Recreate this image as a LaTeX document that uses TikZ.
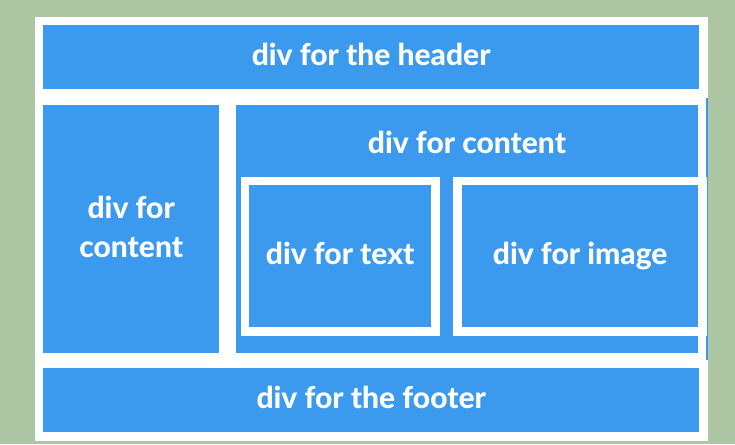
\documentclass[tikz,border=0pt]{standalone}
\usepackage{fontspec}
\setmainfont{Lato}[BoldFont={Lato Heavy}]
\usetikzlibrary{positioning}
\definecolor{divblue}{RGB}{59,153,238}
\definecolor{pagegreen}{RGB}{173,198,163}
\tikzset{
  divbox/.style={fill=divblue, draw=none, inner sep=0pt, anchor=north west},
  divtext/.style={text=white, font=\bfseries\fontsize{30}{39}\selectfont, align=center, text depth=5pt},
}

\begin{document}
\begin{tikzpicture}[x=1pt, y=-1pt]
        \fill[pagegreen] (0,0) rectangle (735,444);
        \useasboundingbox (0,0) rectangle (735,444);
        \fill[white] (35,17) rectangle (708,441);
        \fill[divblue] (706,98) rectangle (708,360);

        % header and footer
        \node[divbox, divtext, minimum width=656pt, minimum height=64pt] (header) at (43,25) {div for the header};
        \node[divbox, divtext, minimum width=656pt, minimum height=64pt] (footer) at (43,368) {div for the footer};

        % left column
        \node[divbox, divtext, minimum width=176pt, minimum height=248pt] (leftcontent) at (43,105) {div for\\content};

        % right column with its two inner divs
        \node[divbox, minimum width=462pt, minimum height=248pt] (rightcontent) at (236,105) {};
        \node[divtext] (rightlabel) at (467,144.5) {div for content};

        \fill[white] (241,177) rectangle (440,336);
        \node[divbox, divtext, minimum width=182pt, minimum height=142pt] (textdiv) at (249,185) {div for text};

        \fill[white] (453,177) rectangle (707,336);
        \node[divbox, divtext, minimum width=236pt, minimum height=142pt] (imagediv) at (462,185) {div for image};
    \end{tikzpicture}
\end{document}
